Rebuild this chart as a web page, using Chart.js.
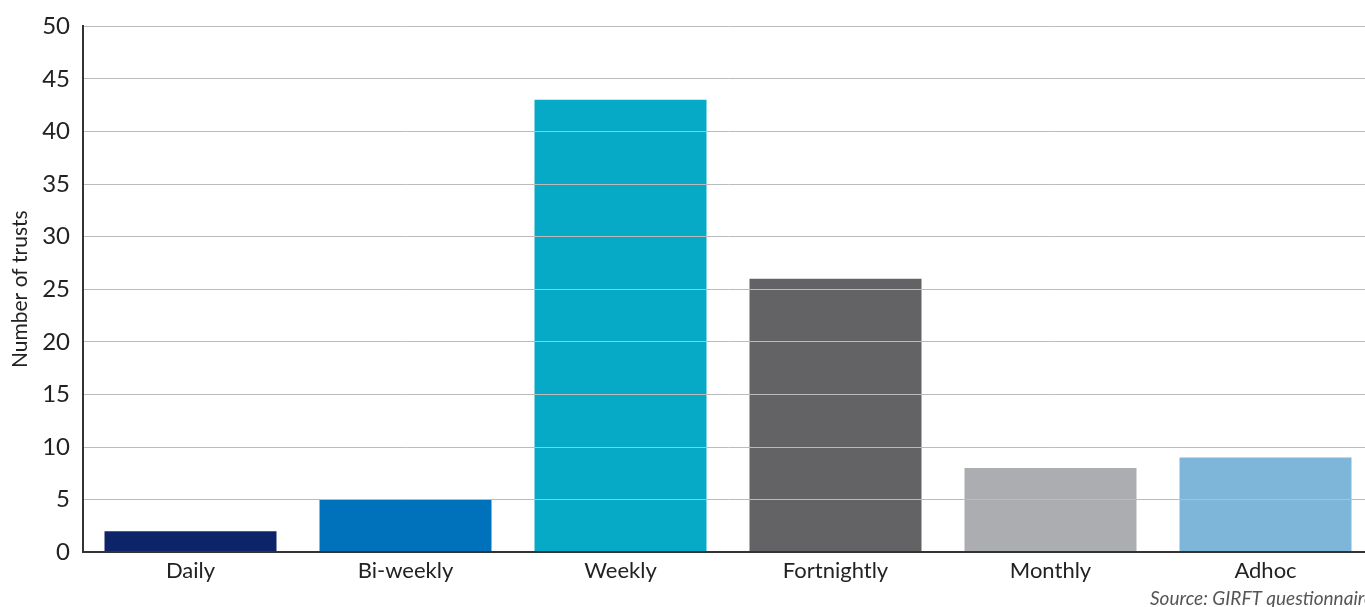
<!DOCTYPE html>
<html><head><meta charset="utf-8">
<script src="https://cdn.jsdelivr.net/npm/chart.js@4"></script>
<style>
html,body{margin:0;padding:0;background:#fff;overflow:hidden;width:1365px;height:607px}
#wrap{position:absolute;left:0;top:0;width:1382px;height:607px}
</style></head><body>
<div id="wrap"><canvas id="c"></canvas></div>
<script>
const categories = ["Daily","Bi-weekly","Weekly","Fortnightly","Monthly","Adhoc"];
const trusts = [2,5,43,26,8,9];
const barColors = ["#0e2469","#0072bc","#06aac6","#636365","#acadb0","#7eb6da"];
const yTicks = [0,5,10,15,20,25,30,35,40,45,50];

new Chart(document.getElementById('c'), {
  type: 'bar',
  data: { labels: categories, datasets: [{ data: trusts, backgroundColor: barColors, categoryPercentage: 0.8, barPercentage: 1 }] },
  options: {
    responsive: true, maintainAspectRatio: false, animation: false,
    layout: { padding: { top: 0, right: 9, left: 0, bottom: 0 } },
    plugins: {
      legend: { display: false }, tooltip: { enabled: false },
      subtitle: { display: true, text: 'Source: GIRFT questionnaire', position: 'bottom', align: 'end',
        color: '#555', font: { family: 'Lato', size: 19, style: 'italic' }, padding: { top: 3, bottom: -3 } }
    },
    scales: {
      x: {
        grid: { display: false, drawTicks: false },
        border: { display: true, color: '#333', width: 2, z: 2 },
        ticks: { color: '#222', font: { family: 'Lato', size: 22 }, padding: 6 },
        afterFit: s => { s.height = 32; }
      },
      y: {
        min: 0, max: 50,
        afterBuildTicks: s => { s.ticks = yTicks.map(v => ({ value: v })); },
        grid: { color: '#bbbbbb', lineWidth: 1, drawTicks: false, z: 1 },
        border: { display: true, color: '#333', width: 2, z: 2 },
        ticks: { color: '#222', font: { family: 'Lato', size: 24, lineHeight: 1.1 }, padding: 13 },
        title: { display: true, text: 'Number of trusts', color: '#222', font: { family: 'Lato', size: 21 }, padding: { top: 8, bottom: 0 } },
        afterFit: s => { s.width = 83; }
      }
    }
  }
});
</script>
</body></html>
